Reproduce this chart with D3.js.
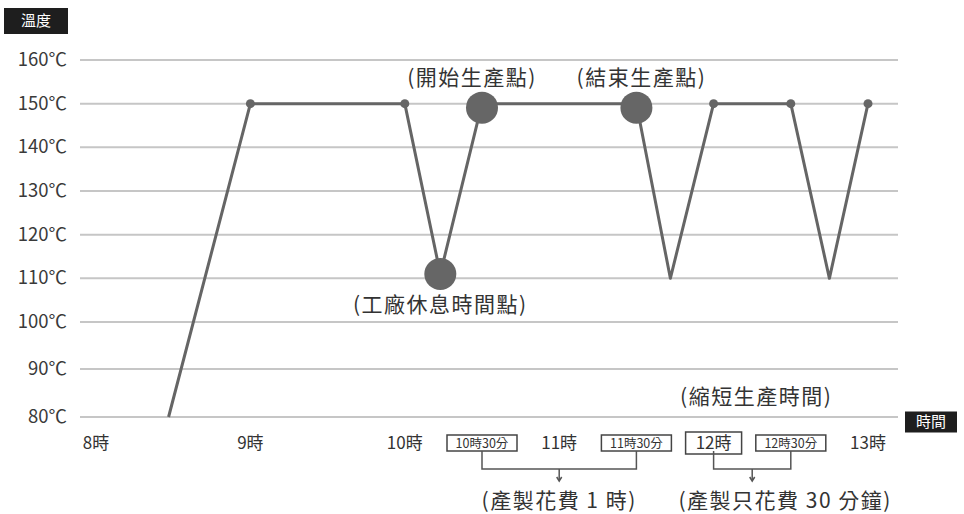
<!DOCTYPE html>
<html>
<head>
<meta charset="utf-8">
<script src="https://cdn.jsdelivr.net/npm/d3@7"></script>
<style>
  html, body { margin: 0; padding: 0; background: #fff; }
  svg { display: block; font-family: "Noto Sans CJK TC", "Noto Sans", sans-serif; }
</style>
</head>
<body>
<svg id="chart" width="964" height="514"></svg>
<script>
// Oven temperature over the working day (hour of day -> ℃)
const times = [8.47, 9, 10, 10.23, 10.5, 11.5, 11.72, 12, 12.5, 12.75, 13];
const temps = [80, 150, 150, 111, 150, 150, 110, 150, 150, 110, 150];
const markers = ["none", "dot", "dot", "big", "big", "big", "none", "dot", "dot", "none", "dot"];

const yTicks = [80, 90, 100, 110, 120, 130, 140, 150, 160];
const xTickHours = [8, 9, 10, 10.5, 11, 11.5, 12, 12.5, 13];
const xTickLabels = ["8時", "9時", "10時", "10時30分", "11時", "11時30分", "12時", "12時30分", "13時"];
const xTickStyle = ["plain", "plain", "plain", "small", "plain", "small", "big", "small", "plain"];

// Callouts attached to data points: [hour, temp, text, side]
const callouts = [
  [10.23, 111, "(工廠休息時間點)", "below"],
  [10.5, 150, "(開始生產點)", "above"],
  [11.5, 150, "(結束生產點)", "above"]
];
// Brackets under the time axis: [from hour, to hour, caption]
const spans = [
  [10.5, 11.5, "(產製花費 1 時)"],
  [12, 12.5, "(產製只花費 30 分鐘)"]
];
const shortenedNote = "(縮短生產時間)";

// Horizontal nudges (px) so texts sit clear of markers and of each other
const calloutShift = [0, -10, 5];
const captionShift = [0, 33];

const svg = d3.select("#chart");
const x = d3.scaleLinear().domain([8, 13]).range([96, 868]);
const y = d3.scaleLinear().domain([80, 90, 100, 160]).range([417, 369, 322, 60]);

const gridLeft = 80, gridRight = 898;
const lineColor = "#656565";
const noteFont = { size: 21, spacing: 1.5, color: "#333" };

function note(sel) {
  return sel.attr("text-anchor", "middle")
    .attr("font-size", noteFont.size)
    .attr("letter-spacing", noteFont.spacing)
    .attr("fill", noteFont.color);
}

// Horizontal grid + y labels
const yAxis = svg.append("g");
yAxis.selectAll("line").data(yTicks).join("line")
  .attr("x1", gridLeft).attr("x2", gridRight)
  .attr("y1", d => y(d)).attr("y2", d => y(d))
  .attr("stroke", "#c6c6c6").attr("stroke-width", 2);
yAxis.selectAll("text").data(yTicks).join("text")
  .attr("x", 67).attr("y", d => y(d) + 6)
  .attr("text-anchor", "end")
  .attr("font-size", 18.5).attr("fill", "#3a3a3a")
  .text(d => d + "℃");

// Axis title boxes
function titleBox(cx, cy, w, h, label) {
  const g = svg.append("g");
  g.append("rect").attr("x", cx - w / 2).attr("y", cy - h / 2)
    .attr("width", w).attr("height", h).attr("fill", "#1e1e1e");
  g.append("text").attr("x", cx).attr("y", cy + 5)
    .attr("text-anchor", "middle").attr("font-size", 15).attr("fill", "#fff")
    .text(label);
}
titleBox(36, 21, 64, 26, "溫度");
titleBox(931, 422, 52, 21, "時間");

// Temperature line
const pts = times.map((t, i) => [t, temps[i]]);
svg.append("path")
  .attr("d", d3.line().x(d => x(d[0])).y(d => y(d[1]))(pts))
  .attr("fill", "none").attr("stroke", lineColor)
  .attr("stroke-width", 3).attr("stroke-linejoin", "round");

svg.append("g").selectAll("circle")
  .data(pts.map((d, i) => ({ d, m: markers[i] })).filter(o => o.m !== "none"))
  .join("circle")
  .attr("cx", o => x(o.d[0]))
  .attr("cy", o => y(o.d[1]) + (o.m === "big" && o.d[1] >= 150 ? 4 : 0))
  .attr("r", o => o.m === "big" ? 16 : 4.5)
  .attr("fill", "#666");

// Callout texts
svg.append("g").selectAll("text").data(callouts).join("text")
  .attr("x", (d, i) => x(d[0]) + calloutShift[i])
  .attr("y", d => d[3] === "above" ? y(d[1]) - 19 : y(d[1]) + 38)
  .call(note)
  .text(d => d[2]);

svg.append("text")
  .attr("x", (x(12) + x(12.5)) / 2 + 4).attr("y", 404)
  .call(note)
  .text(shortenedNote);

// X tick labels
const xAxisY = 443;
const xg = svg.append("g");
xTickHours.forEach((h, i) => {
  const style = xTickStyle[i];
  const fs = style === "small" ? 12.5 : 17;
  if (style !== "plain") {
    const w = style === "small" ? 70 : 56;
    const hgt = style === "small" ? 16 : 22;
    xg.append("rect")
      .attr("x", x(h) - w / 2).attr("y", xAxisY - hgt / 2)
      .attr("width", w).attr("height", hgt)
      .attr("fill", "#fff").attr("stroke", "#444").attr("stroke-width", 1.5);
  }
  xg.append("text")
    .attr("x", x(h)).attr("y", xAxisY + fs * 0.36)
    .attr("text-anchor", "middle").attr("font-size", fs).attr("fill", "#333")
    .text(xTickLabels[i]);
});

// Brackets + captions
spans.forEach(([a, b, caption], i) => {
  const x1 = x(a), x2 = x(b), mid = (x1 + x2) / 2;
  const top = 451, bot = 469;
  const g = svg.append("g").attr("stroke", "#555").attr("stroke-width", 1.5).attr("fill", "none");
  g.append("path").attr("d", `M${x1},${top}V${bot}H${x2}V${top}`);
  g.append("line").attr("x1", mid).attr("x2", mid).attr("y1", bot).attr("y2", bot + 11);
  g.append("path").attr("d", `M${mid - 2.5},${bot + 8}L${mid},${bot + 12}L${mid + 2.5},${bot + 8}`);
  svg.append("text").attr("x", mid + captionShift[i]).attr("y", 508)
    .call(note)
    .text(caption);
});
</script>
</body>
</html>
